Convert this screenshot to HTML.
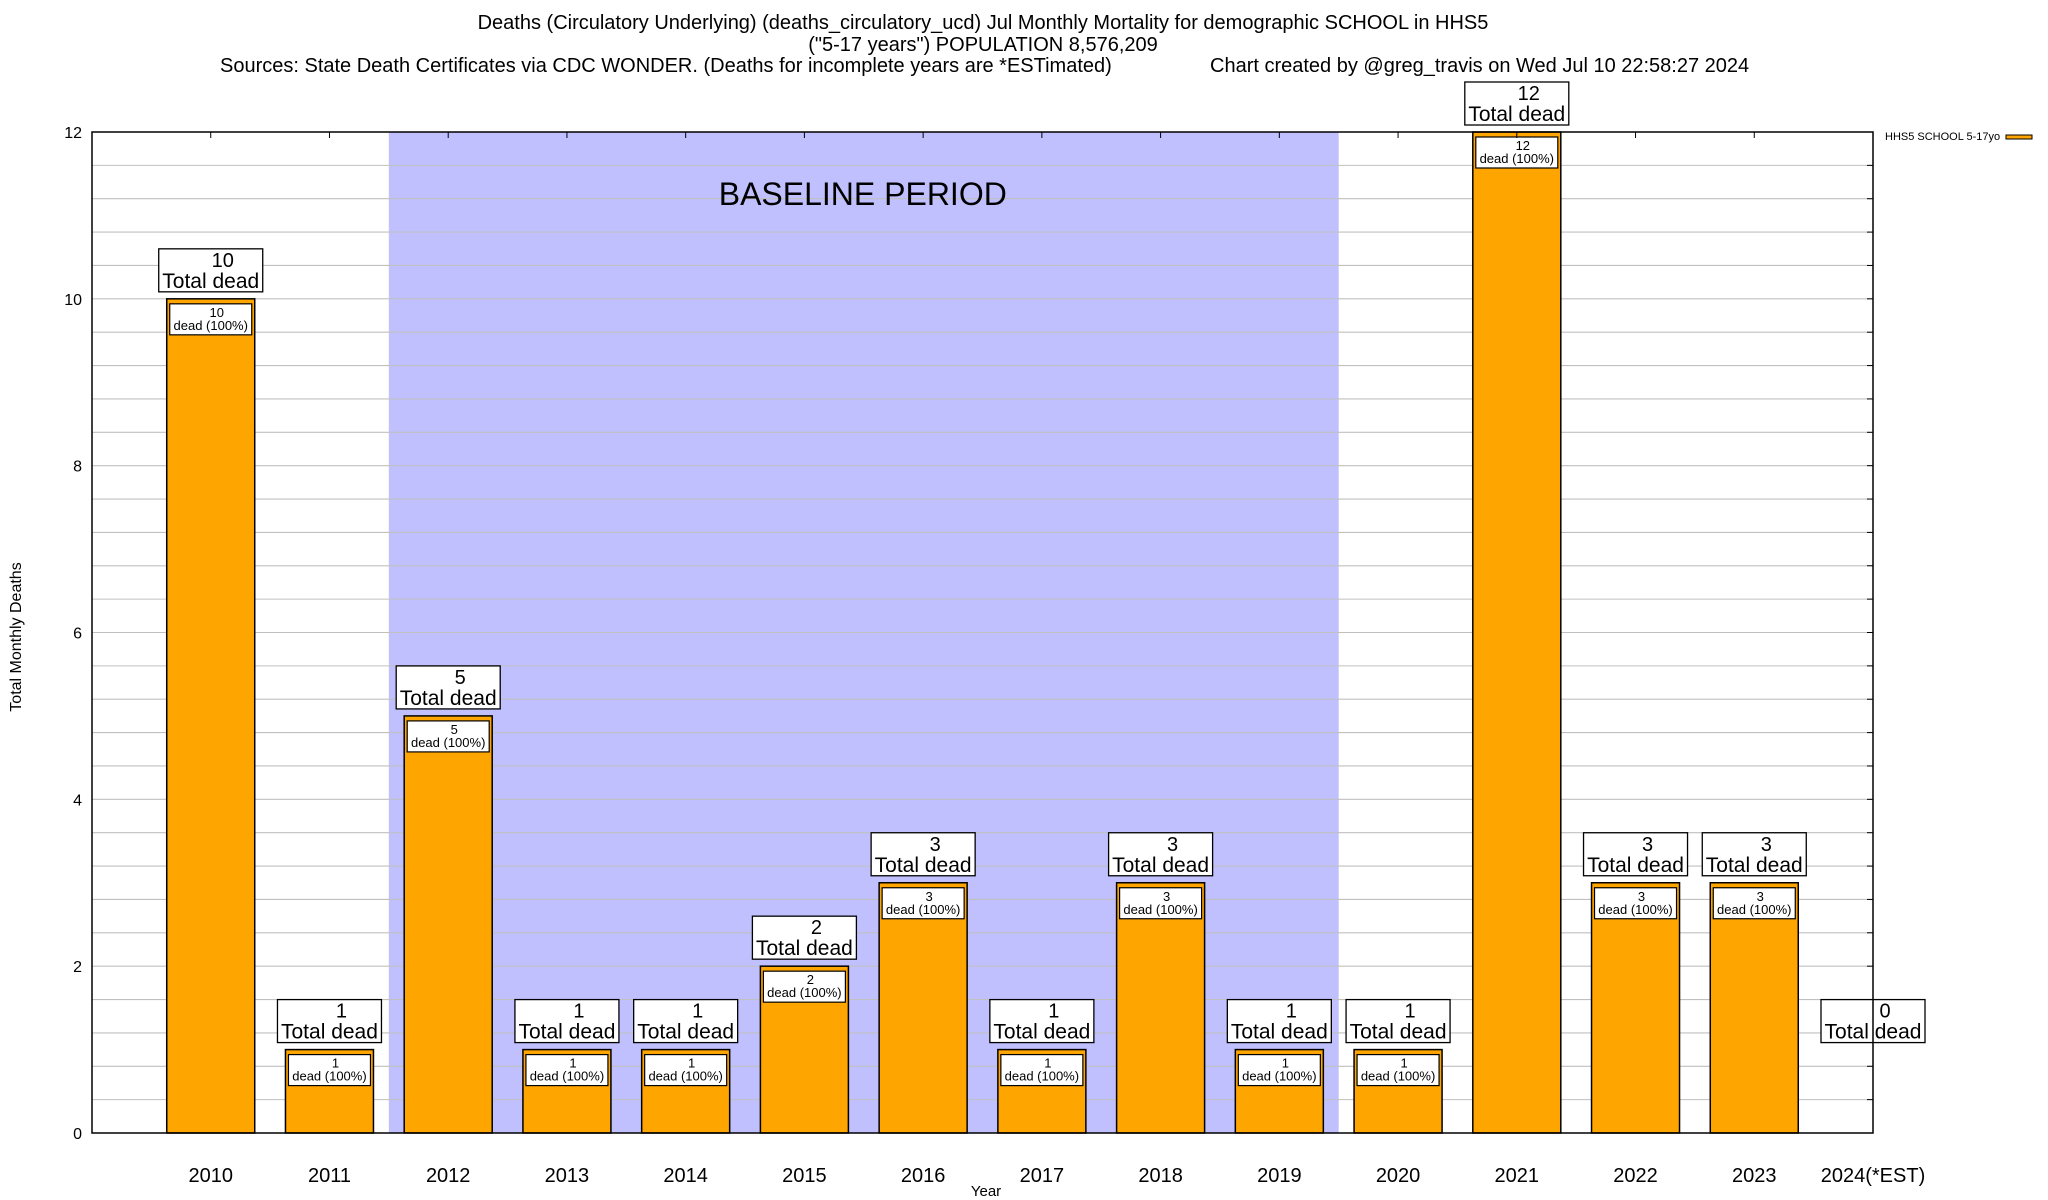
<!DOCTYPE html>
<html><head><meta charset="utf-8"><style>
html,body{margin:0;padding:0;background:#fff}
svg{display:block;font-family:"Liberation Sans",Arial,sans-serif}
</style></head><body>
<svg id="chart" width="2048" height="1200" viewBox="0 0 2048 1200" xmlns="http://www.w3.org/2000/svg">
<g font-size="20" fill="#000">
<text x="983" y="29" text-anchor="middle">Deaths (Circulatory Underlying) (deaths_circulatory_ucd) Jul Monthly Mortality for demographic SCHOOL in HHS5</text>
<text x="983" y="51" text-anchor="middle">("5-17 years") POPULATION 8,576,209</text>
<text x="220" y="72">Sources: State Death Certificates via CDC WONDER. (Deaths for incomplete years are *ESTimated)</text>
<text x="1210" y="72">Chart created by @greg_travis on Wed Jul 10 22:58:27 2024</text>
</g>
<g id="plot"></g>
</svg>
<script>
const categories = ["2010","2011","2012","2013","2014","2015","2016","2017","2018","2019","2020","2021","2022","2023","2024(*EST)"];
const deaths = [10,1,5,1,1,2,3,1,3,1,1,12,3,3,0];
const yTicks = [0,2,4,6,8,10,12];
const baselineRange = [1.5, 9.5];

const NS = "http://www.w3.org/2000/svg";
const L = 92, R = 1873, T = 132, B = 1133;
const yMax = 12;
const step = (R - L) / (categories.length);
const xs = i => L + (i + 1) * step;
const ys = v => B - v / yMax * (B - T);
const g = document.getElementById('plot');
function el(tag, attrs, parent) {
  const e = document.createElementNS(NS, tag);
  for (const k in attrs) e.setAttribute(k, attrs[k]);
  (parent || g).appendChild(e);
  return e;
}
function txt(x, y, s, size, anchor, parent) {
  const t = el('text', {x: x, y: y, 'font-size': size, 'text-anchor': anchor || 'middle'}, parent);
  t.textContent = s;
  return t;
}

const band = el('rect', {x: xs(baselineRange[0]), y: T, width: xs(baselineRange[1]) - xs(baselineRange[0]), height: B - T, fill: '#c0c0ff'});



for (let v = 0.4; v < yMax - 0.01; v += 0.4) {
  const y = ys(v);
  const gl = el('line', {x1: L, x2: R, y1: y, y2: y, stroke: '#c0c0c0', 'stroke-width': 1.1});
  
  
  const tk = el('line', {x1: R - 6, x2: R, y1: y, y2: y, stroke: '#000', 'stroke-width': 1});
  
  
}

const bl = txt((xs(baselineRange[0]) + xs(baselineRange[1])) / 2 - 1, 205, 'BASELINE PERIOD', 32);



yTicks.forEach(v => {
  const t = txt(82, ys(v) + 6, String(v), 16, 'end');
  
  
});

categories.forEach((c, i) => {
  const v = deaths[i];
  const cx = xs(i);
  const bw = 88;
  if (v > 0) {
    const bar = el('rect', {x: cx - bw / 2, y: ys(v), width: bw, height: B - ys(v), fill: '#ffa500', stroke: '#000', 'stroke-width': 1.5});
    
    
    const ib = el('rect', {x: cx - 41, y: ys(v) + 5, width: 82, height: 31, fill: '#fff', stroke: '#000', 'stroke-width': 1.2});
    
    
    const t1 = txt(cx + 6, ys(v) + 18, String(v), 13);
    
    
    const t2 = txt(cx, ys(v) + 31, 'dead (100%)', 13);
    
    
  }
  const top = ys(Math.max(v, 1)) - 7;
  const ob = el('rect', {x: cx - 52, y: top - 43, width: 104, height: 43, fill: '#fff', stroke: '#000', 'stroke-width': 1.3});
  
  
  const n = txt(cx + 12, top - 25, String(v), 20);
  
  
  const td = txt(cx, top - 4, 'Total dead', 21);
  
  
  const xl = txt(cx, 1182, c, 20);
  
  
  const xt = el('line', {x1: cx, x2: cx, y1: T, y2: T + 6, stroke: '#000', 'stroke-width': 1});
  
  
});

const fr = el('rect', {x: L, y: T, width: R - L, height: B - T, fill: 'none', stroke: '#000', 'stroke-width': 1.5});



const xt = txt(986, 1196, 'Year', 15);


const yt = txt(0, 0, 'Total Monthly Deaths', 16);
yt.setAttribute('transform', 'translate(21,637) rotate(-90)');



const lg = el('g', {});


txt(1885, 140, 'HHS5 SCHOOL 5-17yo', 11, 'start', lg);
el('rect', {x: 2006, y: 135, width: 26, height: 4, fill: '#ffa500', stroke: '#000', 'stroke-width': 1}, lg);
</script>
</body></html>
